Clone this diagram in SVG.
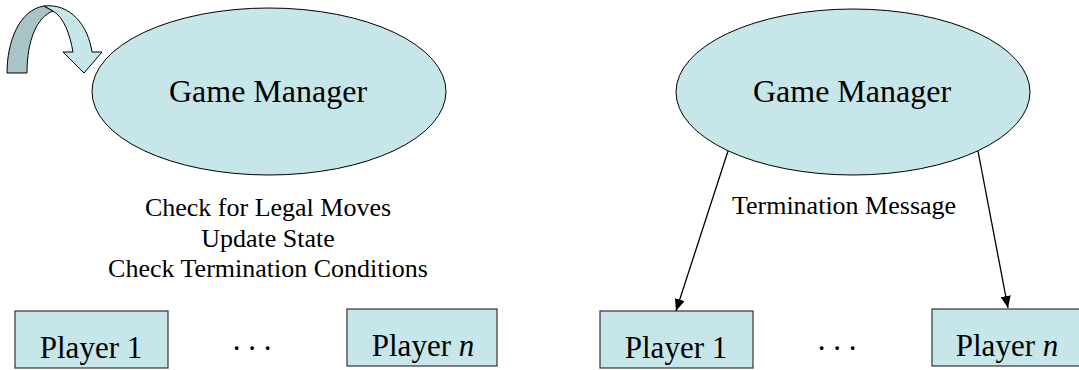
<svg xmlns="http://www.w3.org/2000/svg" width="1079" height="370" viewBox="0 0 1079 370">
<style>
  .node { fill: #c7e6e9; stroke: #000; stroke-width: 1; }
  .box { fill: #c7e6e9; stroke: #333; stroke-width: 1.2; }
  text { font-family: 'Liberation Serif', 'DejaVu Serif', serif; fill: #000; text-anchor: middle; }
  .big { font-size: 32px; }
  .mid { font-size: 31px; }
  .small { font-size: 26px; }
  .conn { stroke: #000; stroke-width: 1.3; fill: none; marker-end: url(#arr); }
</style>
<defs>
  <marker id="arr" viewBox="0 0 12 10" refX="12" refY="5" markerWidth="12" markerHeight="10" markerUnits="userSpaceOnUse" orient="auto">
    <path d="M0,0 L12,5 L0,10 Z" fill="#000"/>
  </marker>
</defs>
<rect width="1079" height="370" fill="#fff"/>

<g id="loop-arrow">
  <path d="M7,73 C7,42 19,10 44,6 L53,11 C37,17 27,40 27,73 Z" fill="#a8c4c6" stroke="#000" stroke-width="1"/>
  <path d="M44,6 C70,3 88,25 92,52 L102,52 L84,73 L63,52 L73,52 C70,35 64,17 53,11 Z" fill="#c7e6e9" stroke="#000" stroke-width="1"/>
</g>

<g id="gm-left">
  <ellipse class="node" cx="269" cy="91.5" rx="177" ry="83.5"/>
  <text class="big" x="268" y="102" font-family="Liberation Serif, serif">Game Manager</text>
</g>

<g id="left-notes">
  <text class="small" x="268" y="216" font-family="Liberation Serif, serif">Check for Legal Moves</text>
  <text class="small" x="268" y="247" font-family="Liberation Serif, serif">Update State</text>
  <text class="small" x="268" y="277" font-family="Liberation Serif, serif">Check Termination Conditions</text>
</g>

<g id="p1-left">
  <rect class="box" x="15" y="311" width="153" height="57"/>
  <text class="mid" x="91" y="358" font-family="Liberation Serif, serif">Player 1</text>
</g>
<g id="dots-left">
  <text class="mid" x="252" y="350" font-family="Liberation Serif, serif">. . .</text>
</g>
<g id="pn-left">
  <rect class="box" x="347" y="309" width="150" height="57"/>
  <text class="mid" x="423" y="356" font-family="Liberation Serif, serif">Player <tspan font-style="italic">n</tspan></text>
</g>

<g id="gm-right">
  <ellipse class="node" cx="853" cy="92" rx="177" ry="83"/>
  <text class="big" x="852" y="102" font-family="Liberation Serif, serif">Game Manager</text>
</g>

<g id="p1-right">
  <rect class="box" x="600" y="311" width="153" height="57"/>
  <text class="mid" x="676" y="358" font-family="Liberation Serif, serif">Player 1</text>
</g>
<g id="dots-right">
  <text class="mid" x="837" y="350" font-family="Liberation Serif, serif">. . .</text>
</g>
<g id="pn-right">
  <rect class="box" x="932" y="309" width="150" height="57"/>
  <text class="mid" x="1007" y="356" font-family="Liberation Serif, serif">Player <tspan font-style="italic">n</tspan></text>
</g>

<g id="connectors">
  <line class="conn" x1="728" y1="151" x2="676" y2="311"/>
  <line class="conn" x1="978" y1="151" x2="1008" y2="308"/>
  <text class="small" x="844" y="214" font-family="Liberation Serif, serif">Termination Message</text>
</g>
</svg>
